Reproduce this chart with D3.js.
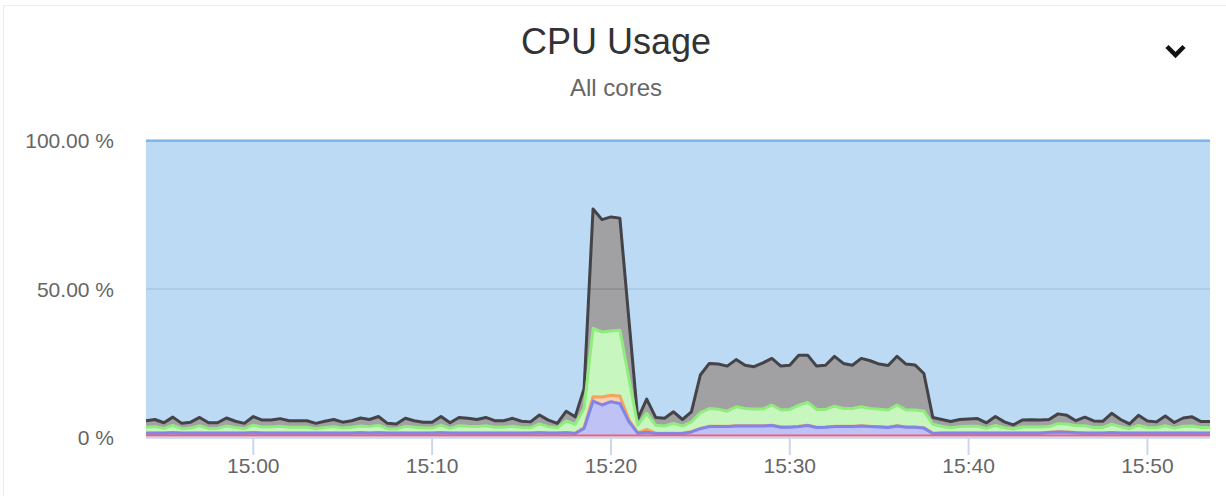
<!DOCTYPE html>
<html>
<head>
<meta charset="utf-8">
<script src="https://cdn.jsdelivr.net/npm/d3@7"></script>
<style>
  html, body { margin: 0; padding: 0; background: #fff; }
  svg { display: block; font-family: "Liberation Sans", Arial, Helvetica, sans-serif; }
</style>
</head>
<body>
<svg id="chart" width="1226" height="496"></svg>
<script>
// ---------------- data ----------------
const startTime = "14:54:00";          // first sample, samples every 30 s
const stepSeconds = 30;
const xTickLabels = ["15:00", "15:10", "15:20", "15:30", "15:40", "15:50"];
const yTickValues = [0, 50, 100];
const yTickLabels = ["0 %", "50.00 %", "100.00 %"];

// per-series CPU share (%) for each sample (120 samples)
const seriesGray = [
  2.2,2.4,1.9,2.8,1.8,2.0,2.8,1.9,1.9,2.7,
  2.1,1.8,2.9,2.3,2.3,2.6,2.2,2.2,2.2,1.8,
  2.1,2.4,2.0,2.2,2.7,2.4,2.9,1.8,1.7,2.7,
  2.2,2.0,2.0,2.9,1.9,2.8,2.7,2.4,2.8,2.2,
  2.2,2.7,2.1,2.0,3.0,2.2,1.5,3.3,2.5,6.8,
  40.3,37.9,38.5,37.8,20.0,2.1,4.8,2.6,2.6,3.9,
  2.2,3.4,12.7,15.2,15.2,15.2,15.9,14.6,14.3,15.6,
  15.7,14.8,14.9,16.9,15.9,14.6,14.9,16.8,15.2,14.6,
  16.3,16.1,15.2,15.0,16.4,15.5,15.2,12.6,2.3,2.3,
  2.1,2.4,2.5,2.6,1.9,3.0,2.0,1.4,2.3,2.4,
  2.3,2.4,3.3,2.9,1.7,2.9,2.2,2.1,3.7,2.4,
  1.6,3.4,2.2,2.0,3.3,1.9,2.8,3.1,2.0,2.0
];
const seriesGreen = [
  1.9,2.1,1.5,2.4,1.4,1.6,2.4,1.5,1.5,2.3,
  1.8,1.4,2.5,2.0,2.0,2.2,1.9,1.9,1.9,1.4,
  1.8,2.1,1.6,1.9,2.2,2.1,2.5,1.4,1.3,2.2,
  1.9,1.6,1.6,2.5,1.5,2.4,2.2,2.1,2.4,1.9,
  1.9,2.2,1.8,1.7,2.9,2.1,1.7,3.9,3.0,6.4,
  23.0,21.9,21.6,22.2,14.0,2.6,5.4,2.7,2.4,3.3,
  2.4,3.3,5.3,6.0,5.8,5.1,6.4,5.8,5.6,5.6,
  6.8,5.7,5.9,7.1,7.7,6.0,5.9,6.8,6.0,6.0,
  6.4,6.0,5.9,5.8,7.0,5.7,5.7,5.7,3.0,2.2,
  1.7,2.1,2.2,2.2,1.5,2.5,1.7,1.3,2.0,2.0,
  2.0,1.9,2.7,2.7,2.3,2.4,1.8,1.8,2.8,2.1,
  1.4,2.5,1.8,1.7,2.4,1.6,2.2,2.3,1.8,1.8
];
const seriesOrange = [
  0.1,0.1,0.1,0.1,0.1,0.1,0.1,0.1,0.1,0.1,
  0.1,0.1,0.1,0.1,0.1,0.1,0.1,0.1,0.1,0.1,
  0.1,0.1,0.1,0.1,0.1,0.1,0.1,0.1,0.1,0.1,
  0.1,0.1,0.1,0.1,0.1,0.1,0.1,0.1,0.1,0.1,
  0.1,0.1,0.1,0.1,0.1,0.1,0.1,0.1,0.1,0.3,
  1.5,2.7,2.2,2.5,0.7,0.1,1.0,0.1,0.1,0.1,
  0.1,0.1,0.1,0.1,0.1,0.1,0.1,0.1,0.1,0.1,
  0.1,0.1,0.1,0.1,0.1,0.1,0.1,0.1,0.1,0.1,
  0.1,0.1,0.1,0.1,0.1,0.1,0.1,0.1,0.1,0.1,
  0.1,0.1,0.1,0.1,0.1,0.1,0.1,0.1,0.1,0.1,
  0.1,0.1,0.1,0.1,0.1,0.1,0.1,0.1,0.1,0.1,
  0.1,0.1,0.1,0.1,0.1,0.1,0.1,0.1,0.1,0.1
];
const seriesPurple = [
  0.7,0.7,0.7,0.8,0.7,0.7,0.7,0.7,0.7,0.7,
  0.7,0.7,0.8,0.7,0.7,0.7,0.7,0.7,0.7,0.7,
  0.7,0.7,0.7,0.7,0.8,0.7,0.8,0.7,0.7,0.7,
  0.7,0.7,0.7,0.8,0.7,0.7,0.7,0.7,0.7,0.7,
  0.7,0.7,0.7,0.7,0.8,0.7,0.7,0.8,0.6,2.3,
  11.5,10.2,11.3,10.7,4.6,0.7,1.0,0.6,0.6,0.6,
  0.6,1.1,2.2,2.9,2.9,2.9,3.1,3.1,3.1,3.1,
  3.3,2.7,2.7,2.9,3.3,2.6,2.7,2.9,2.9,2.9,
  3.1,2.9,2.8,2.6,3.1,2.7,2.7,2.4,0.6,0.7,
  0.7,0.7,0.7,0.7,0.7,0.7,0.7,0.7,0.7,0.7,
  0.7,0.9,1.1,1.0,0.8,0.7,0.7,0.7,0.8,0.7,
  0.7,0.7,0.7,0.7,0.7,0.7,0.7,0.7,0.7,0.7
];
const seriesRed = [
  0.7,0.7,0.7,0.7,0.7,0.7,0.7,0.7,0.7,0.7,
  0.7,0.7,0.7,0.7,0.7,0.7,0.7,0.7,0.7,0.7,
  0.7,0.7,0.7,0.7,0.7,0.7,0.7,0.7,0.7,0.7,
  0.7,0.7,0.7,0.7,0.7,0.7,0.7,0.7,0.7,0.7,
  0.7,0.7,0.7,0.7,0.7,0.7,0.7,0.7,0.7,0.7,
  0.7,0.7,0.7,0.7,0.7,0.7,0.7,0.7,0.7,0.7,
  0.7,0.7,0.7,0.7,0.7,0.7,0.7,0.7,0.7,0.7,
  0.7,0.7,0.7,0.7,0.7,0.7,0.7,0.7,0.7,0.7,
  0.7,0.7,0.7,0.7,0.7,0.7,0.7,0.7,0.7,0.7,
  0.7,0.7,0.7,0.7,0.7,0.7,0.7,0.7,0.7,0.7,
  0.7,0.7,0.7,0.7,0.7,0.7,0.7,0.7,0.7,0.7,
  0.7,0.7,0.7,0.7,0.7,0.7,0.7,0.7,0.7,0.7
];
// idle = remainder of 100 % (percent stacking)
const seriesIdle = seriesGray.map((_, i) =>
  100 - (seriesGray[i] + seriesGreen[i] + seriesOrange[i] + seriesPurple[i] + seriesRed[i]));

const seriesNames  = ["idle", "gray", "green", "orange", "purple", "red"];   // top -> bottom
const seriesColors = ["#7cb5ec", "#434348", "#90ed7d", "#f7a35c", "#8085e9", "#f15c80"];
const seriesValues = [seriesIdle, seriesGray, seriesGreen, seriesOrange, seriesPurple, seriesRed];

// ---------------- chart ----------------
const svg = d3.select("#chart");
const parseTime = d3.timeParse("%H:%M:%S");
const t0 = parseTime(startTime);
const times = seriesGray.map((_, i) => new Date(t0.getTime() + i * stepSeconds * 1000));

const rows = times.map((t, i) => {
  const r = { time: t };
  seriesNames.forEach((n, k) => r[n] = seriesValues[k][i]);
  return r;
});

const plot = { left: 146, right: 1210, top: 140.7, bottom: 437.3 };
const x = d3.scaleTime().domain(d3.extent(times)).range([plot.left, plot.right]);
const y = d3.scaleLinear().domain([0, 100]).range([plot.bottom, plot.top]);

// card border
svg.append("rect").attr("x", 3.5).attr("y", 5.5).attr("width", 1400).attr("height", 600)
  .attr("fill", "#fff").attr("stroke", "#ececec").attr("stroke-width", 1);

// title + subtitle
svg.append("text").attr("x", 616).attr("y", 54).attr("text-anchor", "middle")
  .attr("font-size", 36).attr("fill", "#333333").text("CPU Usage");
svg.append("text").attr("x", 616).attr("y", 96).attr("text-anchor", "middle")
  .attr("font-size", 24).attr("fill", "#666666").text("All cores");

// chevron menu icon
svg.append("path").attr("d", "M1167,46.5 L1175.5,55 L1184,46.5")
  .attr("fill", "none").attr("stroke", "#111").attr("stroke-width", 4.5)
  .attr("stroke-linejoin", "miter").attr("stroke-linecap", "butt");

// gridlines
svg.append("g").selectAll("line").data(yTickValues).join("line")
  .attr("x1", plot.left).attr("x2", plot.right)
  .attr("y1", d => y(d)).attr("y2", d => y(d))
  .attr("stroke", "#e0e0e0").attr("stroke-width", 2);

// y labels
svg.append("g").selectAll("text").data(yTickValues).join("text")
  .attr("x", 114).attr("y", d => y(d) + 2)
  .attr("text-anchor", "end").attr("dominant-baseline", "middle")
  .attr("font-size", 21).attr("fill", "#666666")
  .text((d, i) => yTickLabels[i]);

// stacked areas (bottom -> top order for the stack)
const stackKeys = seriesNames.slice().reverse();
const stacked = d3.stack().keys(stackKeys)(rows);
const byKey = {};
stacked.forEach(s => byKey[s.key] = s);

const area = d3.area().x(d => x(d.data.time)).y0(d => y(d[0])).y1(d => y(d[1]));
const line = d3.line().x(d => x(d.data.time)).y(d => y(d[1]));

const gSeries = svg.append("g");
seriesNames.forEach((n, k) => {
  gSeries.append("path").attr("d", area(byKey[n]))
    .attr("fill", seriesColors[k]).attr("fill-opacity", 0.5);
});

// x axis line
svg.append("line").attr("x1", plot.left).attr("x2", plot.right)
  .attr("y1", plot.bottom + 0.5).attr("y2", plot.bottom + 0.5)
  .attr("stroke", "#ccd6eb").attr("stroke-width", 2);

// lines: series drawn in order, later (lower) series on top
const gLines = svg.append("g");
seriesNames.forEach((n, k) => {
  gLines.append("path").attr("d", line(byKey[n]))
    .attr("fill", "none").attr("stroke", seriesColors[k])
    .attr("stroke-width", n === "red" ? 1.6 : (n === "idle" ? 2.5 : 3))
    .attr("stroke-linejoin", "round");
});

const xTicks = xTickLabels.map(s => parseTime(s + ":00"));
const gx = svg.append("g");
gx.selectAll("line").data(xTicks).join("line")
  .attr("x1", d => x(d)).attr("x2", d => x(d))
  .attr("y1", plot.bottom + 1).attr("y2", 455)
  .attr("stroke", "#ccd6eb").attr("stroke-width", 2);
gx.selectAll("text").data(xTicks).join("text")
  .attr("x", d => x(d)).attr("y", 467)
  .attr("text-anchor", "middle").attr("dominant-baseline", "middle")
  .attr("font-size", 21).attr("fill", "#666666")
  .text((d, i) => xTickLabels[i]);
</script>
</body>
</html>
